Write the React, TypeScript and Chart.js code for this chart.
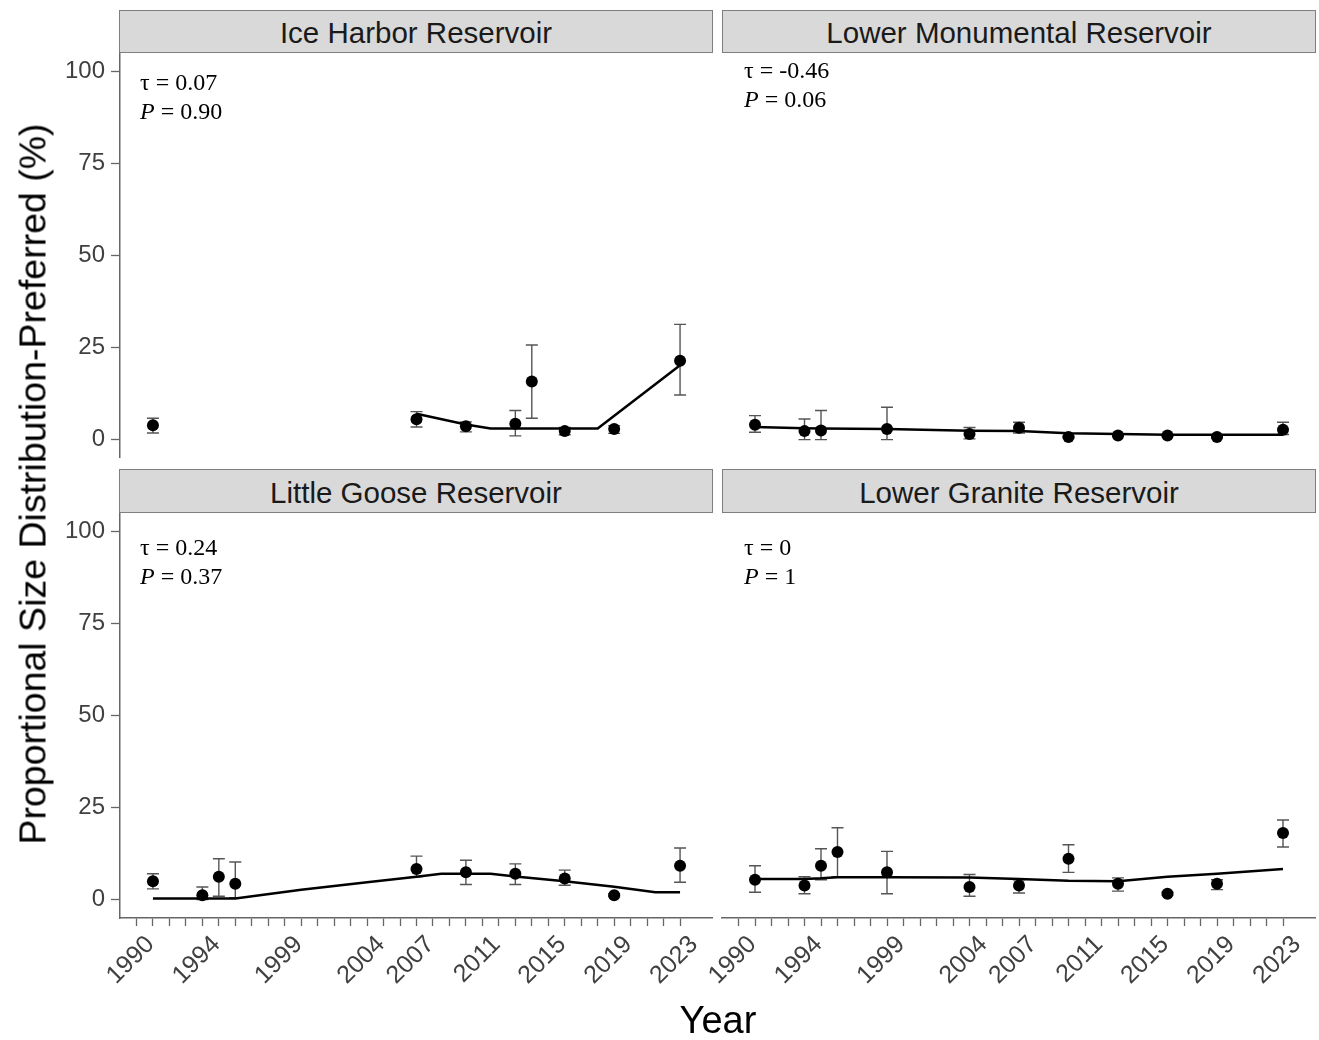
import React, { useEffect, useRef } from "react";
import { Chart, registerables } from "chart.js";

Chart.register(...registerables);

// ---------- axis ticks ----------
const YEAR_TICKS = [
  1990, 1991, 1992, 1993, 1994, 1995, 1996, 1997, 1998, 1999, 2000, 2001,
  2002, 2003, 2004, 2005, 2006, 2007, 2008, 2009, 2010, 2011, 2012, 2013,
  2014, 2015, 2016, 2017, 2018, 2019, 2020, 2021, 2022, 2023,
];
const LABELED_YEARS = [1990, 1994, 1999, 2004, 2007, 2011, 2015, 2019, 2023];
const Y_TICKS = [0, 25, 50, 75, 100];

// ---------- Ice Harbor Reservoir ----------
const ihYears = [1991, 2007, 2010, 2013, 2014, 2016, 2019, 2023];
const ihMean = [3.9, 5.5, 3.6, 4.3, 15.8, 2.3, 2.9, 21.4];
const ihLow = [1.8, 3.4, 2.1, 1.0, 5.8, 1.3, 1.7, 12.1];
const ihHigh = [5.8, 7.6, 4.8, 7.9, 25.7, 3.3, 3.8, 31.3];
const ihFitYears = [2007, 2010, 2011.5, 2018, 2023];
const ihFit = [7.0, 4.1, 3.0, 3.0, 20.2];

// ---------- Lower Monumental Reservoir ----------
const lmYears = [1991, 1994, 1995, 1999, 2004, 2007, 2010, 2013, 2016, 2019, 2023];
const lmMean = [4.0, 2.3, 2.5, 2.9, 1.5, 3.2, 0.7, 1.1, 1.1, 0.7, 2.7];
const lmLow = [2.0, 0.0, 0.0, 0.0, 0.2, 1.8, 0.5, 0.9, 0.9, 0.5, 1.4];
const lmHigh = [6.5, 5.6, 7.9, 8.8, 3.3, 4.7, 0.9, 1.3, 1.3, 0.9, 4.7];
const lmFitYears = [1991, 1994, 1995, 1999, 2004, 2007, 2010, 2013, 2016, 2019, 2023];
const lmFit = [3.4, 3.1, 3.0, 2.9, 2.4, 2.3, 1.7, 1.5, 1.3, 1.3, 1.3];

// ---------- Little Goose Reservoir ----------
const lgYears = [1991, 1994, 1995, 1996, 2007, 2010, 2013, 2016, 2019, 2023];
const lgMean = [5.0, 1.2, 6.2, 4.3, 8.3, 7.4, 7.0, 5.7, 1.2, 9.2];
const lgLow = [2.9, 0.0, 0.9, 0.5, 6.2, 4.1, 4.1, 3.9, 0.8, 4.7];
const lgHigh = [7.0, 3.4, 11.1, 10.2, 11.8, 10.7, 9.7, 8.0, 1.6, 14.0];
const lgFitYears = [1991, 1996, 2000, 2004, 2007, 2008.5, 2011.5, 2013, 2016, 2019, 2021.5, 2023];
const lgFit = [0.3, 0.3, 2.7, 4.7, 6.2, 7.0, 7.0, 6.3, 5.0, 3.5, 2.0, 2.0];

// ---------- Lower Granite Reservoir ----------
const grYears = [1991, 1994, 1995, 1996, 1999, 2004, 2007, 2010, 2013, 2016, 2019, 2023];
const grMean = [5.4, 3.8, 9.2, 12.9, 7.4, 3.4, 3.8, 11.1, 4.3, 1.6, 4.3, 18.1];
const grLow = [2.0, 1.6, 5.4, 6.2, 1.6, 0.9, 1.8, 7.4, 2.3, 1.2, 2.7, 14.3];
const grHigh = [9.2, 6.2, 13.8, 19.5, 13.1, 6.8, 5.4, 14.9, 5.9, 2.0, 5.4, 21.6];
const grFitYears = [1991, 1994, 1995, 1996, 1999, 2004, 2007, 2010, 2013, 2016, 2019, 2023];
const grFit = [5.6, 5.6, 5.8, 6.1, 6.1, 6.0, 5.6, 5.1, 5.0, 6.2, 7.0, 8.3];

const SANS = "'Liberation Sans', Arial, Helvetica, sans-serif";
const SERIF = "'Liberation Serif', 'Times New Roman', serif";
const AXIS_GREY = "#666666";
const TICK_TEXT = "#404040";

const errorBarPlugin = {
  id: "errorBars",
  beforeDatasetsDraw(chart: any, _args: any, opts: any) {
    const { ctx, scales } = chart;
    const x = scales.x;
    const y = scales.y;
    if (!opts || !opts.years) return;
    ctx.save();
    ctx.strokeStyle = "#555555";
    ctx.lineWidth = 1.4;
    const cap = 6;
    opts.years.forEach((yr: number, i: number) => {
      const px = x.getPixelForValue(yr);
      const pl = y.getPixelForValue(opts.low[i]);
      const ph = y.getPixelForValue(opts.high[i]);
      ctx.beginPath();
      ctx.moveTo(px, pl);
      ctx.lineTo(px, ph);
      ctx.moveTo(px - cap, pl);
      ctx.lineTo(px + cap, pl);
      ctx.moveTo(px - cap, ph);
      ctx.lineTo(px + cap, ph);
      ctx.stroke();
    });
    ctx.restore();
  },
};

type PanelProps = {
  left: number;
  top: number;
  width: number;
  height: number;
  padLeft: number;
  showX: boolean;
  showY: boolean;
  yAxisW: number;
  xAxisH: number;
  years: number[];
  mean: number[];
  low: number[];
  high: number[];
  fitYears: number[];
  fit: number[];
};

function Panel(p: PanelProps) {
  const ref = useRef<HTMLCanvasElement | null>(null);
  useEffect(() => {
    if (!ref.current) return;
    const chart = new Chart(ref.current, {
      type: "scatter",
      data: {
        datasets: [
          {
            type: "line",
            data: p.fitYears.map((x, i) => ({ x, y: p.fit[i] })),
            borderColor: "#000000",
            borderWidth: 2.5,
            pointRadius: 0,
            fill: false,
            tension: 0,
            order: 2,
          } as any,
          {
            type: "scatter",
            data: p.years.map((x, i) => ({ x, y: p.mean[i] })),
            backgroundColor: "#000000",
            borderColor: "#000000",
            pointRadius: 6,
            borderWidth: 0,
            order: 1,
          } as any,
        ],
      },
      options: {
        animation: false,
        responsive: false,
        maintainAspectRatio: false,
        events: [],
        layout: { autoPadding: false, padding: { left: p.padLeft, right: 0, top: 0, bottom: 0 } },
        plugins: {
          legend: { display: false },
          tooltip: { enabled: false },
          title: { display: false },
          errorBars: { years: p.years, low: p.low, high: p.high },
        } as any,
        scales: {
          x: {
            type: "linear",
            min: 1989,
            max: 2025,
            display: p.showX,
            afterBuildTicks: (s: any) => {
              s.ticks = YEAR_TICKS.map((v) => ({ value: v }));
            },
            afterFit: (s: any) => {
              s.height = p.xAxisH;
              s.paddingLeft = 0;
              s.paddingRight = 0;
            },
            ticks: {
              autoSkip: false,
              minRotation: 45,
              maxRotation: 45,
              padding: 4,
              labelOffset: 14,
              color: TICK_TEXT,
              font: { family: SANS, size: 25 },
              callback: (v: any) => (LABELED_YEARS.includes(Number(v)) ? String(v) : ""),
            },
            grid: {
              display: true,
              drawOnChartArea: false,
              drawTicks: true,
              tickLength: 8,
              color: AXIS_GREY,
              tickColor: AXIS_GREY,
              tickWidth: 1.3,
            },
            border: { display: true, color: AXIS_GREY, width: 1.5 },
          },
          y: {
            type: "linear",
            min: -5,
            max: 105,
            display: p.showY,
            afterBuildTicks: (s: any) => {
              s.ticks = Y_TICKS.map((v) => ({ value: v }));
            },
            afterFit: (s: any) => {
              s.width = p.yAxisW;
              s.paddingTop = 0;
              s.paddingBottom = 0;
            },
            ticks: {
              padding: 6,
              color: TICK_TEXT,
              font: { family: SANS, size: 24 },
              callback: (v: any) => String(v),
            },
            grid: {
              display: true,
              drawOnChartArea: false,
              drawTicks: true,
              tickLength: 9,
              color: AXIS_GREY,
              tickColor: AXIS_GREY,
              tickWidth: 1.3,
            },
            border: { display: true, color: AXIS_GREY, width: 1.5 },
          },
        },
      } as any,
      plugins: [errorBarPlugin],
    });
    return () => chart.destroy();
  }, []);
  return (
    <canvas
      ref={ref}
      width={p.width}
      height={p.height}
      style={{ position: "absolute", left: p.left, top: p.top, width: p.width, height: p.height }}
    />
  );
}

function Strip({ left, top, width, height, text }: { left: number; top: number; width: number; height: number; text: string }) {
  return (
    <div
      style={{
        position: "absolute",
        left,
        top,
        width,
        height,
        boxSizing: "border-box",
        background: "#d9d9d9",
        border: "1.5px solid #7f7f7f",
        display: "flex",
        alignItems: "center",
        justifyContent: "center",
        fontFamily: SANS,
        fontSize: 29.5,
        color: "#1a1a1a",
        whiteSpace: "nowrap",
        paddingTop: 3,
      }}
    >
      {text}
    </div>
  );
}

function Stat({ left, top, tau, p }: { left: number; top: number; tau: string; p: string }) {
  return (
    <div
      style={{
        position: "absolute",
        left,
        top,
        fontFamily: SERIF,
        fontSize: 24,
        lineHeight: "29px",
        color: "#000",
        whiteSpace: "nowrap",
      }}
    >
      <div>τ = {tau}</div>
      <div>
        <i>P</i> = {p}
      </div>
    </div>
  );
}

export default function App() {
  return (
    <div
      style={{
        position: "fixed",
        left: 0,
        top: 0,
        width: 1319,
        height: 1040,
        background: "#ffffff",
        overflow: "hidden",
      }}
    >
      <Panel left={0} top={53} width={713} height={405} padLeft={0} showX={false} showY={true} yAxisW={120} xAxisH={0}
        years={ihYears} mean={ihMean} low={ihLow} high={ihHigh} fitYears={ihFitYears} fit={ihFit} />
      <Panel left={722} top={53} width={594} height={405} padLeft={0} showX={false} showY={false} yAxisW={0} xAxisH={0}
        years={lmYears} mean={lmMean} low={lmLow} high={lmHigh} fitYears={lmFitYears} fit={lmFit} />
      <Panel left={0} top={513} width={713} height={505} padLeft={0} showX={true} showY={true} yAxisW={120} xAxisH={100}
        years={lgYears} mean={lgMean} low={lgLow} high={lgHigh} fitYears={lgFitYears} fit={lgFit} />
      <Panel left={662} top={513} width={654} height={505} padLeft={60} showX={true} showY={false} yAxisW={0} xAxisH={100}
        years={grYears} mean={grMean} low={grLow} high={grHigh} fitYears={grFitYears} fit={grFit} />

      <Strip left={119} top={10} width={594} height={43} text="Ice Harbor Reservoir" />
      <Strip left={722} top={10} width={594} height={43} text="Lower Monumental Reservoir" />
      <Strip left={119} top={469} width={594} height={44} text="Little Goose Reservoir" />
      <Strip left={722} top={469} width={594} height={44} text="Lower Granite Reservoir" />

      <Stat left={140} top={68} tau="0.07" p="0.90" />
      <Stat left={744} top={56} tau="-0.46" p="0.06" />
      <Stat left={140} top={533} tau="0.24" p="0.37" />
      <Stat left={744} top={533} tau="0" p="1" />

      <div
        style={{
          position: "absolute",
          left: 33,
          top: 484,
          transform: "translate(-50%, -50%) rotate(-90deg)",
          fontFamily: SANS,
          fontSize: 37.5,
          color: "#000",
          whiteSpace: "nowrap",
        }}
      >
        Proportional Size Distribution-Preferred (%)
      </div>
      <div
        style={{
          position: "absolute",
          left: 718,
          top: 1020,
          transform: "translate(-50%, -50%)",
          fontFamily: SANS,
          fontSize: 38,
          color: "#000",
          whiteSpace: "nowrap",
        }}
      >
        Year
      </div>
    </div>
  );
}
